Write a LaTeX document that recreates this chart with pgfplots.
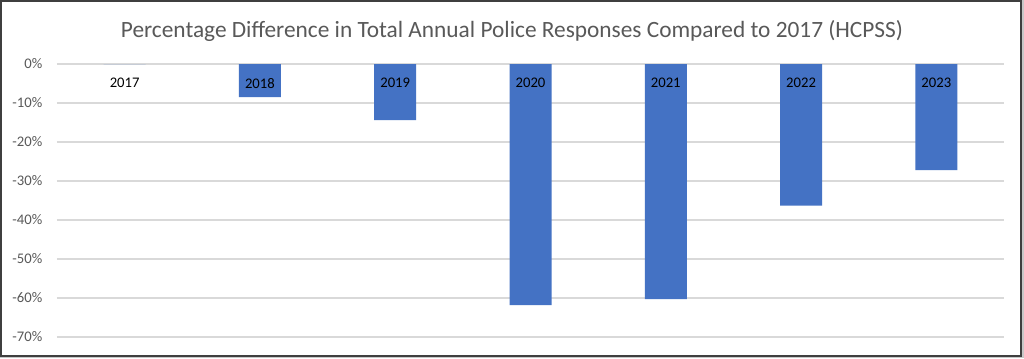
\documentclass[border=0pt]{standalone}
\usepackage{pgfplots}
\pgfplotsset{compat=1.18}
\usepackage{fontspec}
\setmainfont{Carlito}
\definecolor{barblue}{HTML}{4472C4}
\definecolor{gridgray}{HTML}{D9D9D9}
\definecolor{txtgray}{HTML}{595959}
\definecolor{framegray}{HTML}{3F3F3F}
\definecolor{shadow}{HTML}{C8C8C8}
\begin{document}
\begin{tikzpicture}
\fill[shadow] (0,0) rectangle (768pt,268.5pt);
\path[use as bounding box] (0,0) rectangle (768pt,268.5pt);
\filldraw[fill=white, draw=framegray, line width=1.5pt] (0.75pt,1.5pt) rectangle (765.75pt,267.75pt);
\node[font=\fontsize{17.5}{21}\selectfont, text=txtgray] at (384pt,245.25pt) {Percentage Difference in Total Annual Police Responses Compared to 2017 (HCPSS)};
\begin{axis}[
  at={(42.75pt,15.75pt)}, anchor=south west,
  scale only axis, width=710.25pt, height=204.75pt,
  xmin=-0.5, xmax=6.5, ymin=-70, ymax=0,
  axis line style={draw=none},
  xtick=\empty,
  ytick={-70,-60,...,0},
  yticklabel={\pgfmathprintnumber{\tick}\%},
  /pgf/number format/assume math mode=true,
  yticklabel style={font=\fontsize{11}{13}\selectfont, text=txtgray, xshift=-7.5pt},
  major tick length=0pt,
  ymajorgrids, grid style={gridgray, line width=0.9pt},
  clip=false,
]
\addplot[ybar, bar width=31.5pt, fill=barblue, draw=none]
  coordinates {(0,0) (1,-8.5) (2,-14.4) (3,-61.8) (4,-60.3) (5,-36.3) (6,-27.2)};
\addplot[only marks, mark=none, nodes near coords, point meta=explicit symbolic,
  nodes near coords align={center}, every node near coord/.append style={font=\fontsize{11}{13}\selectfont, text=black}]
  table[meta=label] {
x y label
0 -4.9 2017
1 -4.9 2018
2 -4.9 2019
3 -4.9 2020
4 -4.9 2021
5 -4.9 2022
6 -4.9 2023
};
\end{axis}
\end{tikzpicture}
\end{document}
